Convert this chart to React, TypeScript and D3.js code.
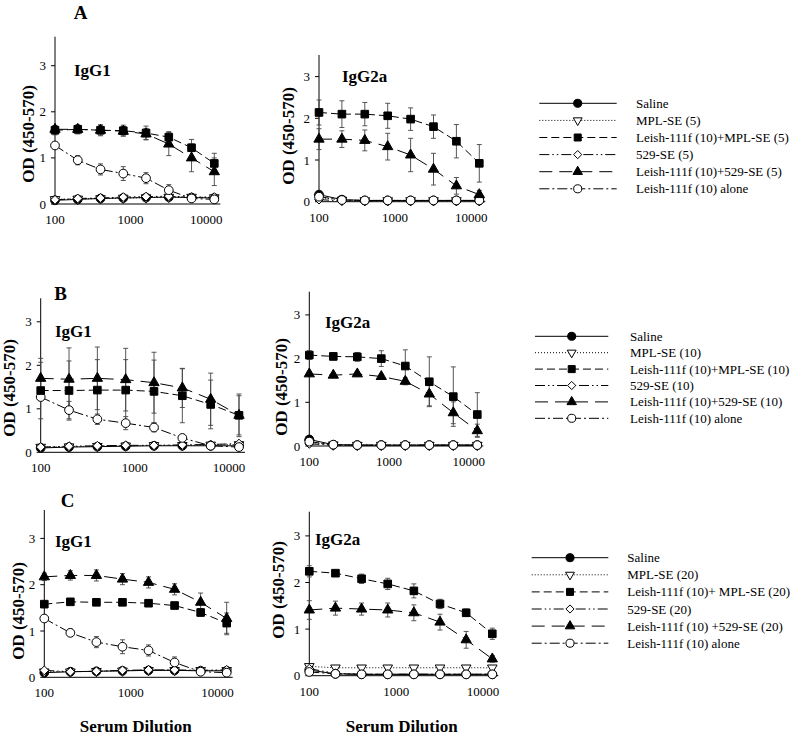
import React from 'react';
import * as d3 from 'd3';

// ---------- data ----------
const dilutions = [100, 200, 400, 800, 1600, 3200, 6400, 12800];
const xTickValues = [100, 1000, 10000];
const yTickValues = [0, 1, 2, 3];
const seriesKeys = ['saline', 'mpl', 'leishMpl', 'se529', 'leish529', 'alone'];

const legendA = ['Saline', 'MPL-SE (5)', 'Leish-111f (10)+MPL-SE (5)', '529-SE (5)', 'Leish-111f (10)+529-SE (5)', 'Leish-111f (10) alone'];
const legendB = ['Saline', 'MPL-SE (10)', 'Leish-111f (10)+MPL-SE (10)', '529-SE (10)', 'Leish-111f (10)+529-SE (10)', 'Leish-111f (10) alone'];
const legendC = ['Saline', 'MPL-SE (20)', 'Leish-111f (10)+ MPL-SE (20)', '529-SE (20)', 'Leish-111f (10) +529-SE (20)', 'Leish-111f (10) alone'];

// Panel A, IgG1
const A_IgG1 = {
  saline: [0.08, 0.1, 0.12, 0.13, 0.14, 0.15, 0.14, 0.13],
  mpl: [0.1, 0.11, 0.12, 0.13, 0.14, 0.15, 0.15, 0.14],
  leishMpl: [1.6, 1.62, 1.6, 1.59, 1.54, 1.45, 1.22, 0.88],
  se529: [0.09, 0.12, 0.13, 0.15, 0.16, 0.17, 0.15, 0.15],
  leish529: [1.62, 1.62, 1.6, 1.58, 1.52, 1.3, 1.0, 0.7],
  alone: [1.27, 0.95, 0.75, 0.66, 0.56, 0.3, 0.12, 0.1],
};
const A_IgG1_err = {
  leishMpl: [0.1, 0.1, 0.12, 0.12, 0.15, 0.12, 0.18, 0.22],
  leish529: [0.08, 0.08, 0.1, 0.1, 0.12, 0.25, 0.3, 0.3],
  alone: [0.05, 0.1, 0.12, 0.15, 0.12, 0.12, 0.05, 0.05],
};
// Panel A, IgG2a
const A_IgG2a = {
  saline: [0.17, 0.05, 0.03, 0.03, 0.03, 0.03, 0.03, 0.03],
  mpl: [0.1, 0.04, 0.03, 0.03, 0.03, 0.03, 0.03, 0.03],
  leishMpl: [2.14, 2.1, 2.1, 2.06, 1.98, 1.8, 1.45, 0.92],
  se529: [0.05, 0.02, 0.02, 0.02, 0.02, 0.02, 0.02, 0.02],
  leish529: [1.5, 1.5, 1.47, 1.32, 1.12, 0.78, 0.38, 0.17],
  alone: [0.12, 0.04, 0.03, 0.03, 0.03, 0.03, 0.03, 0.03],
};
const A_IgG2a_err = {
  leishMpl: [0.3, 0.32, 0.28, 0.3, 0.27, 0.28, 0.4, 0.45],
  leish529: [0.25, 0.2, 0.25, 0.32, 0.4, 0.38, 0.2, 0.1],
  alone: [0.02, 0.01, 0.01, 0.01, 0.01, 0.01, 0.01, 0.01],
};
// Panel B, IgG1
const B_IgG1 = {
  saline: [0.1, 0.12, 0.13, 0.14, 0.15, 0.15, 0.15, 0.15],
  mpl: [0.12, 0.13, 0.14, 0.15, 0.16, 0.16, 0.17, 0.18],
  leishMpl: [1.42, 1.42, 1.43, 1.43, 1.4, 1.3, 1.1, 0.85],
  se529: [0.12, 0.14, 0.15, 0.16, 0.16, 0.17, 0.18, 0.2],
  leish529: [1.7, 1.68, 1.7, 1.67, 1.6, 1.48, 1.22, 0.85],
  alone: [1.27, 0.97, 0.76, 0.67, 0.57, 0.33, 0.15, 0.12],
};
const B_IgG1_err = {
  leishMpl: [0.65, 0.68, 0.7, 0.7, 0.72, 0.62, 0.56, 0.45],
  leish529: [0.46, 0.72, 0.72, 0.72, 0.7, 0.45, 0.6, 0.49],
  alone: [0.05, 0.2, 0.12, 0.15, 0.1, 0.08, 0.05, 0.05],
};
// Panel B, IgG2a
const B_IgG2a = {
  saline: [0.15, 0.03, 0.02, 0.02, 0.02, 0.02, 0.02, 0.02],
  mpl: [0.08, 0.03, 0.02, 0.02, 0.02, 0.02, 0.02, 0.02],
  leishMpl: [2.08, 2.05, 2.04, 2.0, 1.83, 1.47, 1.13, 0.72],
  se529: [0.05, 0.02, 0.02, 0.02, 0.02, 0.02, 0.02, 0.02],
  leish529: [1.65, 1.62, 1.65, 1.59, 1.48, 1.19, 0.76, 0.35],
  alone: [0.1, 0.03, 0.02, 0.02, 0.02, 0.02, 0.02, 0.02],
};
const B_IgG2a_err = {
  leishMpl: [0.1, 0.08, 0.1, 0.18, 0.37, 0.57, 0.68, 0.5],
  leish529: [0.05, 0.05, 0.05, 0.05, 0.08, 0.27, 0.25, 0.15],
  alone: [0.02, 0.01, 0.01, 0.01, 0.01, 0.01, 0.01, 0.01],
};
// Panel C, IgG1
const C_IgG1 = {
  saline: [0.1, 0.12, 0.13, 0.14, 0.15, 0.15, 0.14, 0.14],
  mpl: [0.12, 0.12, 0.13, 0.14, 0.15, 0.15, 0.15, 0.15],
  leishMpl: [1.58, 1.63, 1.62, 1.62, 1.6, 1.55, 1.4, 1.17],
  se529: [0.15, 0.12, 0.13, 0.15, 0.16, 0.16, 0.15, 0.16],
  leish529: [2.17, 2.2, 2.2, 2.12, 2.05, 1.9, 1.62, 1.27],
  alone: [1.27, 0.96, 0.76, 0.66, 0.58, 0.32, 0.12, 0.1],
};
const C_IgG1_err = {
  leishMpl: [0.05, 0.05, 0.05, 0.05, 0.05, 0.05, 0.08, 0.22],
  leish529: [0.08, 0.1, 0.12, 0.12, 0.12, 0.12, 0.2, 0.35],
  alone: [0.05, 0.08, 0.12, 0.15, 0.12, 0.12, 0.05, 0.05],
};
// Panel C, IgG2a
const C_IgG2a = {
  saline: [0.12, 0.04, 0.03, 0.03, 0.03, 0.03, 0.03, 0.03],
  mpl: [0.2, 0.17, 0.17, 0.17, 0.17, 0.17, 0.17, 0.17],
  leishMpl: [2.24, 2.2, 2.08, 1.97, 1.82, 1.54, 1.35, 0.9],
  se529: [0.15, 0.05, 0.03, 0.03, 0.03, 0.03, 0.03, 0.03],
  leish529: [1.41, 1.45, 1.43, 1.41, 1.35, 1.15, 0.77, 0.36],
  alone: [0.08, 0.04, 0.03, 0.03, 0.03, 0.03, 0.03, 0.03],
};
const C_IgG2a_err = {
  leishMpl: [0.12, 0.06, 0.1, 0.12, 0.15, 0.1, 0.08, 0.12],
  leish529: [0.2, 0.15, 0.13, 0.15, 0.17, 0.17, 0.18, 0.07],
  alone: [0.02, 0.01, 0.01, 0.01, 0.01, 0.01, 0.01, 0.01],
};

// ---------- styles / layout ----------
const FONT = '"Liberation Serif", "Times New Roman", Times, serif';

const styles: Record<string, { dash?: string; marker: string; fill: string }> = {
  saline: { marker: 'circle', fill: '#000' },
  mpl: { dash: '1,2', marker: 'invTriangle', fill: '#fff' },
  leishMpl: { dash: '8,4', marker: 'square', fill: '#000' },
  se529: { dash: '10,3,1.5,3,1.5,3', marker: 'diamond', fill: '#fff' },
  leish529: { dash: '13,7', marker: 'triangle', fill: '#000' },
  alone: { dash: '10,3,2,3', marker: 'circle', fill: '#fff' },
};

const drawOrder = ['saline', 'mpl', 'se529', 'alone', 'leish529', 'leishMpl'];

const panels = [
  { data: A_IgG1, err: A_IgG1_err, x0: 55, x1: 214.3, y0: 204, unit: 46.1, top: 36.7, label: 'IgG1', lx: 74, ly: 76, ylx: 28.3, yly: 134 },
  { data: A_IgG2a, err: A_IgG2a_err, x0: 319, x1: 479.3, y0: 201.7, unit: 41.7, top: 55, label: 'IgG2a', lx: 342, ly: 82, ylx: 288.3, yly: 136 },
  { data: B_IgG1, err: B_IgG1_err, x0: 40.7, x1: 239, y0: 452.3, unit: 43.5, top: 298.3, label: 'IgG1', lx: 55, ly: 337, ylx: 8.7, yly: 388 },
  { data: B_IgG2a, err: B_IgG2a_err, x0: 309.3, x1: 477.3, y0: 446, unit: 43.7, top: 291.7, label: 'IgG2a', lx: 325, ly: 328, ylx: 280.7, yly: 387 },
  { data: C_IgG1, err: C_IgG1_err, x0: 44.3, x1: 226.7, y0: 677.3, unit: 46.3, top: 510, label: 'IgG1', lx: 55, ly: 546.7, ylx: 18.3, yly: 611 },
  { data: C_IgG2a, err: C_IgG2a_err, x0: 309.3, x1: 492.3, y0: 675.7, unit: 46.6, top: 511.7, label: 'IgG2a', lx: 315, ly: 545, ylx: 278.3, yly: 590 },
];

const letters = [
  { t: 'A', x: 80.5, y: 18.5 },
  { t: 'B', x: 60.5, y: 300 },
  { t: 'C', x: 67.5, y: 506.7 },
];

const legends = [
  { labels: legendA, lx0: 539.3, lx1: 616.7, mx: 577.7, tx: 636, y: 103.3, dy: 17.1 },
  { labels: legendB, lx0: 535, lx1: 608.3, mx: 571.7, tx: 630, y: 336.3, dy: 16.4 },
  { labels: legendC, lx0: 531.7, lx1: 608.3, mx: 570, tx: 627.3, y: 557.7, dy: 17.1 },
];

const serumLabels = [
  { x: 135.8, y: 732 },
  { x: 401.7, y: 732 },
];

function markerPath(kind: string, scale: number): string {
  const sym = d3.symbol();
  if (kind === 'circle') return sym.type(d3.symbolCircle).size(60 * scale)() as string;
  if (kind === 'square') return sym.type(d3.symbolSquare).size(58 * scale)() as string;
  if (kind === 'triangle') return sym.type(d3.symbolTriangle).size(46 * scale)() as string;
  if (kind === 'invTriangle') return sym.type(d3.symbolTriangle).size(40 * scale)() as string;
  if (kind === 'diamond') return sym.type(d3.symbolDiamond2).size(50 * scale)() as string;
  return '';
}

function Marker({ kind, x, y, fill, scale = 1 }: { kind: string; x: number; y: number; fill: string; scale?: number }) {
  const rot = kind === 'invTriangle' ? ' rotate(180)' : '';
  return (
    <path d={markerPath(kind, scale)} transform={`translate(${x},${y})${rot}`} fill={fill} stroke="#000" strokeWidth={1} />
  );
}

function Panel({ p }: { p: (typeof panels)[number] }) {
  const x = d3.scaleLog().domain([100, 12800]).range([p.x0, p.x1]);
  const y = d3.scaleLinear().domain([0, 1]).range([p.y0, p.y0 - p.unit]);
  const yTop = y.invert(p.top);
  const line = d3
    .line<number>()
    .x((_, i) => x(dilutions[i]))
    .y((v) => y(v));
  const data = p.data as Record<string, number[]>;
  const err = p.err as Record<string, number[]>;
  return (
    <g>
      {/* axes */}
      <line x1={p.x0} x2={p.x0} y1={y(0)} y2={y(yTop)} stroke="#000" strokeWidth={1} />
      <line x1={p.x0} x2={x(12800) + 6} y1={y(0)} y2={y(0)} stroke="#000" strokeWidth={1} />
      {yTickValues.map((t) => (
        <g key={'yt' + t}>
          <line x1={p.x0 - 4} x2={p.x0} y1={y(t)} y2={y(t)} stroke="#000" strokeWidth={1} />
          <text x={p.x0 - 9} y={y(t)} dy="0.35em" textAnchor="end" fontSize={13} fontFamily={FONT}>
            {t}
          </text>
        </g>
      ))}
      {xTickValues.map((t) => (
        <text key={'xt' + t} x={x(t)} y={y(0) + 20} textAnchor="middle" fontSize={13} fontFamily={FONT}>
          {t}
        </text>
      ))}
      {/* error bars */}
      {Object.keys(err).map((k) =>
        err[k].map((e, i) => {
          const cx = x(dilutions[i]);
          const v = data[k][i];
          return (
            <g key={k + 'e' + i} stroke="#444" strokeWidth={0.9}>
              <line x1={cx} x2={cx} y1={y(v - e)} y2={y(v + e)} />
              <line x1={cx - 2.5} x2={cx + 2.5} y1={y(v - e)} y2={y(v - e)} />
              <line x1={cx - 2.5} x2={cx + 2.5} y1={y(v + e)} y2={y(v + e)} />
            </g>
          );
        })
      )}
      {/* series */}
      {drawOrder.map((k) => (
        <g key={k}>
          <path d={line(data[k]) as string} fill="none" stroke="#000" strokeWidth={1} strokeDasharray={styles[k].dash} />
          {data[k].map((v, i) => (
            <Marker key={i} kind={styles[k].marker} x={x(dilutions[i])} y={y(v)} fill={styles[k].fill} />
          ))}
        </g>
      ))}
      {/* labels */}
      <text x={p.lx} y={p.ly} fontSize={17} fontWeight="bold" fontFamily={FONT}>
        {p.label}
      </text>
      <text
        transform={`translate(${p.ylx + 6},${p.yly}) rotate(-90)`}
        textAnchor="middle"
        fontSize={17}
        fontWeight="bold"
        fontFamily={FONT}
      >
        OD (450-570)
      </text>
    </g>
  );
}

function Legend({ lg }: { lg: (typeof legends)[number] }) {
  return (
    <g>
      {seriesKeys.map((k, i) => {
        const yy = lg.y + i * lg.dy;
        return (
          <g key={k}>
            <line x1={lg.lx0} x2={lg.lx1} y1={yy} y2={yy} stroke="#000" strokeWidth={1} strokeDasharray={styles[k].dash} />
            <Marker kind={styles[k].marker} x={lg.mx} y={yy} fill={styles[k].fill} scale={0.85} />
            <text x={lg.tx} y={yy} dy="0.35em" fontSize={13} fontFamily={FONT}>
              {lg.labels[i]}
            </text>
          </g>
        );
      })}
    </g>
  );
}

export default function App() {
  return (
    <svg width={800} height={739} style={{ position: 'absolute', left: 0, top: 0, background: '#fff' }}>
      <rect width={800} height={739} fill="#fff" />
      {panels.map((p, i) => (
        <Panel key={i} p={p} />
      ))}
      {legends.map((lg, i) => (
        <Legend key={i} lg={lg} />
      ))}
      {letters.map((l) => (
        <text key={l.t} x={l.x} y={l.y} textAnchor="middle" fontSize={19} fontWeight="bold" fontFamily={FONT}>
          {l.t}
        </text>
      ))}
      {serumLabels.map((s, i) => (
        <text key={i} x={s.x} y={s.y} textAnchor="middle" fontSize={17} fontWeight="bold" fontFamily={FONT}>
          Serum Dilution
        </text>
      ))}
    </svg>
  );
}
